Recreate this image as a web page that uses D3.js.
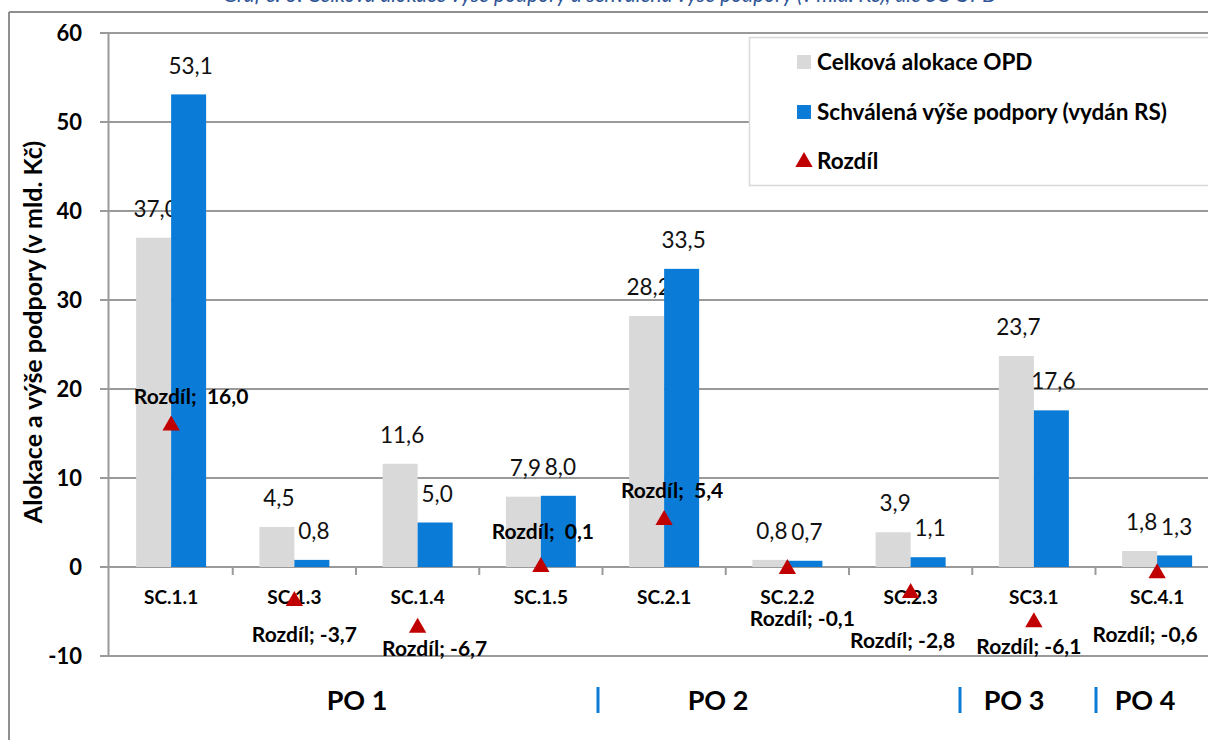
<!DOCTYPE html>
<html>
<head>
<meta charset="utf-8">
<script src="https://cdn.jsdelivr.net/npm/d3@7"></script>
<style>
  html, body { margin: 0; padding: 0; background: #fff; overflow: hidden; }
  svg { display: block; font-family: Lato, "Open Sans", sans-serif; }
  text { white-space: pre; }
</style>
</head>
<body>
<svg id="chart" width="1208" height="740"></svg>
<script>
// ---- data ----
const categories = ["SC.1.1", "SC.1.3", "SC.1.4", "SC.1.5", "SC.2.1", "SC.2.2", "SC.2.3", "SC3.1", "SC.4.1"];
const allocation = [37.0, 4.5, 11.6, 7.9, 28.2, 0.8, 3.9, 23.7, 1.8];
const approved   = [53.1, 0.8, 5.0, 8.0, 33.5, 0.7, 1.1, 17.6, 1.3];
const difference = [16.0, -3.7, -6.7, 0.1, 5.4, -0.1, -2.8, -6.1, -0.6];
const yTicks = [-10, 0, 10, 20, 30, 40, 50, 60];
const seriesNames = ["Celková alokace OPD", "Schválená výše podpory (vydán RS)", "Rozdíl"];
const priorityAxes = ["PO 1", "PO 2", "PO 3", "PO 4"];
const titleText = "Graf č. 3: Celková alokace výše podpory a schválená výše podpory (v mld. Kč), dle SC OPD";
const yTitle = "Alokace a výše podpory (v mld. Kč)";

// ---- layout / style (not data) ----
const diffLabelOffsets = [[20, -28], [10, 35], [17, 22], [2, -35], [8, -29], [15, 51], [-8, 49], [-5, 25], [-12, 62]];
const poLabelX = [357, 718, 1014, 1145];
const separatorX = [598, 960, 1096];
const colors = { alloc: "#d9d9d9", approved: "#0a7bd6", diff: "#c00000", grid: "#9a9a9a", sep: "#0a7bd6" };

const fmt = v => d3.format(".1f")(v).replace(".", ",").replace("−", "-");

const svg = d3.select("#chart");

// outer frame (top + left edge visible)
svg.append("line").attr("x1", 9).attr("x2", 1208).attr("y1", 12).attr("y2", 12)
  .attr("stroke", "#8f8f8f").attr("stroke-width", 2);
svg.append("line").attr("x1", 9).attr("x2", 9).attr("y1", 12).attr("y2", 740)
  .attr("stroke", "#8f8f8f").attr("stroke-width", 2);

// cut-off title (only its lower edge shows, as in the source)
svg.append("text").attr("x", 610).attr("y", 1.5).attr("text-anchor", "middle")
  .attr("font-style", "italic").attr("font-size", 21).attr("fill", "#2f5597")
  .text(titleText);

const x = d3.scaleBand().domain(categories).range([109.5, 1218.75]).paddingInner(0).paddingOuter(0);
const xs = d3.scaleBand().domain(["alloc", "approved"]).range([-35, 35]);
const y = d3.scaleLinear().domain([-10, 60]).range([656, 33]);

// gridlines
svg.append("g").selectAll("line").data(yTicks).join("line")
  .attr("x1", 100).attr("x2", 1208)
  .attr("y1", d => Math.round(y(d))).attr("y2", d => Math.round(y(d)))
  .attr("stroke", colors.grid).attr("stroke-width", 2);

// y axis line
svg.append("line").attr("x1", 108.5).attr("x2", 108.5).attr("y1", y(60)).attr("y2", y(-10))
  .attr("stroke", colors.grid).attr("stroke-width", 2);

// y tick labels
svg.append("g").selectAll("text").data(yTicks).join("text")
  .attr("x", 82).attr("y", d => y(d)).attr("dy", "0.36em")
  .attr("text-anchor", "end").attr("font-weight", "bold").attr("font-size", 22).attr("fill", "#000")
  .text(d => d);

// y title
svg.append("text").attr("transform", `translate(42,332) rotate(-90)`)
  .attr("text-anchor", "middle").attr("font-weight", "bold").attr("font-size", 25).attr("fill", "#000")
  .text(yTitle);

// category ticks below zero line
const boundaries = categories.map(c => x(c)).concat([x.range()[1]]).slice(1);
svg.append("g").selectAll("line").data(boundaries).join("line")
  .attr("x1", d => d).attr("x2", d => d).attr("y1", y(0)).attr("y2", y(0) + 8)
  .attr("stroke", colors.grid).attr("stroke-width", 2);

// bars
const rows = categories.map((c, i) => ({ c, alloc: allocation[i], approved: approved[i], diff: difference[i] }));
const gBars = svg.append("g");
["alloc", "approved"].forEach(key => {
  gBars.selectAll("rect." + key).data(rows).join("rect").attr("class", key)
    .attr("x", d => x(d.c) + x.bandwidth() / 2 + xs(key))
    .attr("width", xs.bandwidth())
    .attr("y", d => y(Math.max(0, d[key])))
    .attr("height", d => Math.abs(y(d[key]) - y(0)))
    .attr("fill", colors[key]);
  gBars.selectAll("text." + key).data(rows).join("text").attr("class", key)
    .attr("x", d => x(d.c) + x.bandwidth() / 2 + xs(key) + xs.bandwidth() / 2 + 2)
    .attr("y", d => y(d[key]) - 29).attr("dy", "0.36em")
    .attr("text-anchor", "middle").attr("font-size", 22.5).attr("fill", "#111")
    .text(d => fmt(d[key]));
});

// category labels
svg.append("g").selectAll("text").data(categories).join("text")
  .attr("x", d => x(d) + x.bandwidth() / 2).attr("y", 597).attr("dy", "0.36em")
  .attr("text-anchor", "middle").attr("font-weight", "bold").attr("font-size", 19).attr("fill", "#000")
  .text(d => d);

// difference markers
const tri = d3.symbol().type(d3.symbolTriangle).size(130);
svg.append("g").selectAll("path").data(rows).join("path")
  .attr("transform", d => `translate(${x(d.c) + x.bandwidth() / 2},${y(d.diff) + 1})`)
  .attr("d", tri).attr("fill", colors.diff);

svg.append("g").selectAll("text").data(rows).join("text")
  .attr("x", (d, i) => x(d.c) + x.bandwidth() / 2 + diffLabelOffsets[i][0])
  .attr("y", (d, i) => y(d.diff) + diffLabelOffsets[i][1]).attr("dy", "0.36em")
  .attr("text-anchor", "middle").attr("font-weight", "bold").attr("font-size", 21).attr("fill", "#000")
  .text(d => "Rozdíl; " + (d.diff >= 0 ? " " : "") + fmt(d.diff));

// PO labels and separators
svg.append("g").selectAll("text").data(priorityAxes).join("text")
  .attr("x", (d, i) => poLabelX[i]).attr("y", 700).attr("dy", "0.36em")
  .attr("text-anchor", "middle").attr("font-weight", "bold").attr("font-size", 27).attr("fill", "#000")
  .text(d => d);
svg.append("g").selectAll("line").data(separatorX).join("line")
  .attr("x1", d => d).attr("x2", d => d).attr("y1", 687).attr("y2", 713)
  .attr("stroke", colors.sep).attr("stroke-width", 3);

// legend
const lg = svg.append("g");
lg.append("rect").attr("x", 749.5).attr("y", 37.5).attr("width", 480).attr("height", 148)
  .attr("fill", "#fff").attr("stroke", "#d9d9d9").attr("stroke-width", 1.5);
const legendY = [62, 112, 161];
lg.append("rect").attr("x", 797).attr("y", legendY[0] - 7).attr("width", 14).attr("height", 14).attr("fill", colors.alloc);
lg.append("rect").attr("x", 797).attr("y", legendY[1] - 7).attr("width", 14).attr("height", 14).attr("fill", colors.approved);
lg.append("path").attr("transform", `translate(804,${legendY[2] + 1})`).attr("d", tri).attr("fill", colors.diff);
lg.selectAll("text").data(seriesNames).join("text")
  .attr("x", 817).attr("y", (d, i) => legendY[i]).attr("dy", "0.36em")
  .attr("font-weight", "bold").attr("font-size", 22.5).attr("fill", "#000")
  .text(d => d);
</script>
</body>
</html>
